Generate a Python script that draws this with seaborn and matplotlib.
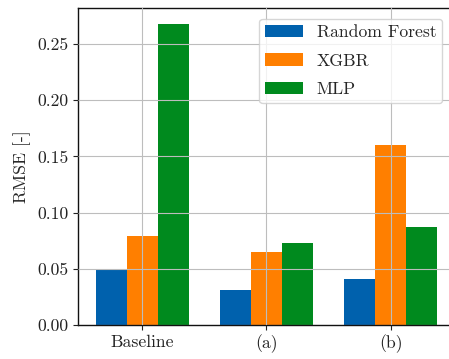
import matplotlib
matplotlib.use("Agg")
import matplotlib.pyplot as plt
import seaborn as sns
import pandas as pd

# RMSE per model and configuration
configs = ["Baseline", "(a)", "(b)"]
models = ["Random Forest", "XGBR", "MLP"]
rf_rmse = [0.050, 0.031, 0.041]
xgbr_rmse = [0.079, 0.065, 0.160]
mlp_rmse = [0.268, 0.073, 0.087]
colors = ["#0061ad", "#ff7f00", "#008a1e"]

rows = []
for model, vals in zip(models, [rf_rmse, xgbr_rmse, mlp_rmse]):
    for cfg, v in zip(configs, vals):
        rows.append({"config": cfg, "model": model, "rmse": v})
df = pd.DataFrame(rows)

sns.set_style("ticks")
plt.rcParams["font.family"] = ["cmr10"]
plt.rcParams["mathtext.fontset"] = "cm"
plt.rcParams["axes.formatter.use_mathtext"] = True
plt.rcParams["font.size"] = 12.7

fig = plt.figure(figsize=(4.49, 3.59), dpi=100)
ax = fig.add_axes([78 / 449, 1 - 325 / 359, (453 - 78) / 449, (325 - 8) / 359])

sns.barplot(data=df, x="config", y="rmse", hue="model", hue_order=models,
            order=configs, palette=colors, width=0.75, linewidth=0,
            saturation=1, ax=ax)

ax.set_ylim(0, 0.282)
ax.set_xlim(-0.516, 2.5)
ax.set_yticks([0.0, 0.05, 0.10, 0.15, 0.20, 0.25])
ax.set_yticklabels(["0.00", "0.05", "0.10", "0.15", "0.20", "0.25"])
ax.set_xlabel("")
ax.set_ylabel("RMSE [-]", fontsize=12.7)
ax.tick_params(axis="both", labelsize=12.7, direction="out", length=3.5,
               width=0.8, colors="#222222", labelcolor="#222222")

ax.set_axisbelow(False)
ax.grid(True, color="#bdbdbd", linewidth=0.8)
for side in ["left", "bottom", "top", "right"]:
    ax.spines[side].set_visible(True)
    ax.spines[side].set_color("#111111")
    ax.spines[side].set_linewidth(1.0)

leg = ax.legend(loc="upper right", fontsize=12.7, frameon=True,
                fancybox=True, framealpha=0.8, edgecolor="#cccccc",
                handlelength=2.1, handleheight=0.7, borderaxespad=0.6,
                labelspacing=0.75, borderpad=0.35)

fig.savefig("out.png", dpi=100)
